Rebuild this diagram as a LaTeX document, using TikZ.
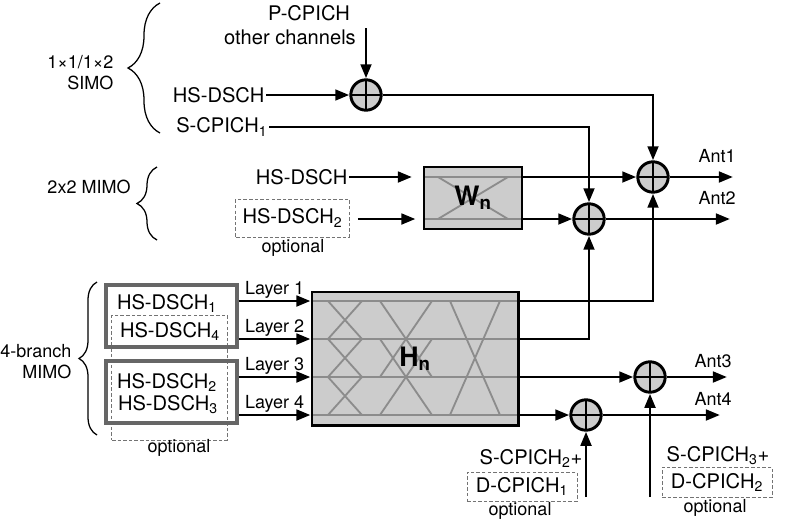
\documentclass[tikz,border=0pt]{standalone}
\usepackage{fontspec}
\setmainfont{TeX Gyre Heros}
\usetikzlibrary{arrows.meta}
\usetikzlibrary{calc}
\usetikzlibrary{decorations.pathreplacing}

\tikzset{
  sig/.style={line width=2.1pt, -{Triangle[length=10pt,width=7.5pt]}},
  txt/.style={inner sep=1pt, font=\fontsize{14.3}{16}\selectfont},
  small/.style={inner sep=1pt, font=\fontsize{12.8}{15}\selectfont},
  optbox/.style={draw=black!55, dash pattern=on 2.5pt off 1.5pt, line width=0.7pt, inner sep=0pt},
  grpbox/.style={draw=black!60, line width=2.3pt, inner sep=0pt},
  adder/.style={circle, draw, fill=black!20, line width=2.1pt, minimum size=0.76cm, inner sep=0pt,
    path picture={\draw[line width=2.1pt]
      (path picture bounding box.north) -- (path picture bounding box.south)
      (path picture bounding box.west) -- (path picture bounding box.east);}},
  mixer/.style={draw, fill=black!20, line width=2.1pt, inner sep=0pt},
  mesh/.style={draw=black!45, line width=1.3pt},
  brc/.style={decorate, line width=0.9pt, decoration={brace, amplitude=#1}},
}

\begin{document}
\begin{tikzpicture}[x=0.025cm, y=-0.025cm]
    \useasboundingbox (0,0) rectangle (800,527);

    % rows of the 4-branch part
    \coordinate (r1) at (0,301);
    \coordinate (r2) at (0,339);
    \coordinate (r3) at (0,377);
    \coordinate (r4) at (0,415);

    % adders
    \node[adder] (add1) at (366,95) {};
    \node[adder] (add2) at (589,219) {};
    \node[adder] (add3) at (653,177) {};
    \node[adder] (add4) at (650,377) {};
    \node[adder] (add5) at (586,415) {};

    % SIMO
    \node[txt] (pcpich) at (309,13) {P-CPICH};
    \node[txt] (others) at (290,37) {other channels};
    \coordinate (pin) at (366,28);
    \node[txt, anchor=east] (hsa) at (266,95) {HS-DSCH};
    \node[txt, anchor=east] (scp1) at (269,127) {S-CPICH\textsubscript{1}};
    \draw[sig] (pin) -- (add1);
    \draw[sig] (hsa.east) -- (add1);
    \draw[sig] (add1) -| (add3);
    \draw[sig] (scp1.east) -| (add2);

    \draw[brc=0.8cm] (160,133) -- (160,3);
    \node[small, align=right, anchor=east] (simo) at (115,73) {1×1/1×2\\SIMO};

    % 2x2 MIMO
    \node[mixer, minimum width=2.45cm, minimum height=1.55cm, path picture={
        \coordinate (o) at (path picture bounding box.north west);
        \draw[mesh] ($(o)+(0,10)$) -- ++(98,0) ($(o)+(0,52)$) -- ++(98,0)
            ($(o)+(14,10)$) -- ($(o)+(84,52)$) ($(o)+(84,10)$) -- ($(o)+(14,52)$);
    }] (wn) at (473,198) {\fontsize{19}{19}\selectfont\bfseries W\textsubscript{n}};

    \node[txt, anchor=east] (hsb) at (349,177) {HS-DSCH};
    \node[txt, optbox, minimum width=2.825cm, minimum height=0.95cm] (hsc) at (292.5,218) {HS-DSCH\textsubscript{2}};
    \node[small] (hscopt) at (293,248) {optional};
    \draw[sig, shorten >=7.5pt] (hsb.east) -- (wn.west |- hsb.east);
    \draw[sig, shorten <=6pt, shorten >=5pt] (hsc.east |- add2) -- (wn.west |- add2);
    \draw[sig] (wn.east |- add3) -- (add3);
    \draw[sig] (wn.east |- add2) -- (add2);

    \draw[brc=0.5cm] (157,240) -- (157,167);
    \node[small] (mimo2) at (89,187) {2x2 MIMO};

    % 4-branch MIMO
    \node[mixer, minimum width=5.15cm, minimum height=3.325cm, path picture={
        \coordinate (o) at (path picture bounding box.north west);
        \foreach \row in {9,47,85,123}
            \draw[mesh] ($(o)+(0,\row)$) -- ++(206,0);
        \foreach \a/\b in {9/47,47/85,85/123}
            \draw[mesh] ($(o)+(16,\a)$) -- ($(o)+(50,\b)$) ($(o)+(50,\a)$) -- ($(o)+(16,\b)$);
        \foreach \a/\b in {9/85,47/123}
            \draw[mesh] ($(o)+(68,\a)$) -- ($(o)+(120,\b)$) ($(o)+(120,\a)$) -- ($(o)+(68,\b)$);
        \draw[mesh] ($(o)+(138,9)$) -- ($(o)+(188,123)$) ($(o)+(188,9)$) -- ($(o)+(138,123)$);
    }] (hn) at (415,358.5) {\fontsize{19}{19}\selectfont\bfseries H\textsubscript{n}};

    \node[optbox, minimum width=2.875cm, minimum height=3.125cm] (opt4) at (169.5,377.5) {};
    \node[grpbox, minimum width=3.275cm, minimum height=1.55cm] (grp1) at (171.5,316) {};
    \node[grpbox, minimum width=3.275cm, minimum height=1.55cm] (grp2) at (171.5,392) {};
    \node[txt] (hs1) at (167,303) {HS-DSCH\textsubscript{1}};
    \node[txt] (hs4) at (170,331) {HS-DSCH\textsubscript{4}};
    \node[txt] (hs2) at (167,382) {HS-DSCH\textsubscript{2}};
    \node[txt] (hs3) at (168,405) {HS-DSCH\textsubscript{3}};
    \node[small] (opt4lbl) at (179,448) {optional};

    \draw[sig] (grp1.east |- r1) -- node[small, above] (lay1) {Layer 1} (hn.west |- r1);
    \draw[sig] (grp1.east |- r2) -- node[small, above] (lay2) {Layer 2} (hn.west |- r2);
    \draw[sig] (grp2.east |- r3) -- node[small, above] (lay3) {Layer 3} (hn.west |- r3);
    \draw[sig] (grp2.east |- r4) -- node[small, above] (lay4) {Layer 4} (hn.west |- r4);

    \draw[sig] (hn.east |- r1) -| (add3);
    \draw[sig] (hn.east |- r2) -| (add2);
    \draw[sig] (hn.east |- r3) -- (add4);
    \draw[sig] (hn.east |- r4) -- (add5);

    \draw[brc=0.45cm] (97,435) -- (97,282);
    \node[small, align=right, anchor=east] (mimo4) at (73,362) {4-branch\\MIMO};

    % pilots at the bottom
    \coordinate (in4) at (650,497);
    \coordinate (in5) at (586,497);
    \draw[sig] (in5) -- (add5);
    \draw[sig] (in4) -- (add4);
    \node[txt] (scp2) at (531,458) {S-CPICH\textsubscript{2}+};
    \node[txt, optbox, minimum width=2.75cm, minimum height=0.725cm] (dcp1) at (522,486.5) {D-CPICH\textsubscript{1}};
    \node[small] (dcp1opt) at (520,511) {optional};
    \node[txt] (scp3) at (718,456) {S-CPICH\textsubscript{3}+};
    \node[txt, optbox, minimum width=2.75cm, minimum height=0.75cm] (dcp2) at (717,482) {D-CPICH\textsubscript{2}};
    \node[small] (dcp2opt) at (715,508) {optional};

    % antennas
    \coordinate (ant1) at (733,177);
    \coordinate (ant2) at (730,219);
    \coordinate (ant3) at (727,377);
    \coordinate (ant4) at (720,415);
    \draw[sig] (add3) -- (ant1);
    \draw[sig] (add2) -- (ant2);
    \draw[sig] (add4) -- (ant3);
    \draw[sig] (add5) -- (ant4);
    \node[small] (ant1lbl) at (717,156) {Ant1};
    \node[small] (ant2lbl) at (717,198) {Ant2};
    \node[small] (ant3lbl) at (713,361) {Ant3};
    \node[small] (ant4lbl) at (713,399) {Ant4};
\end{tikzpicture}
\end{document}
